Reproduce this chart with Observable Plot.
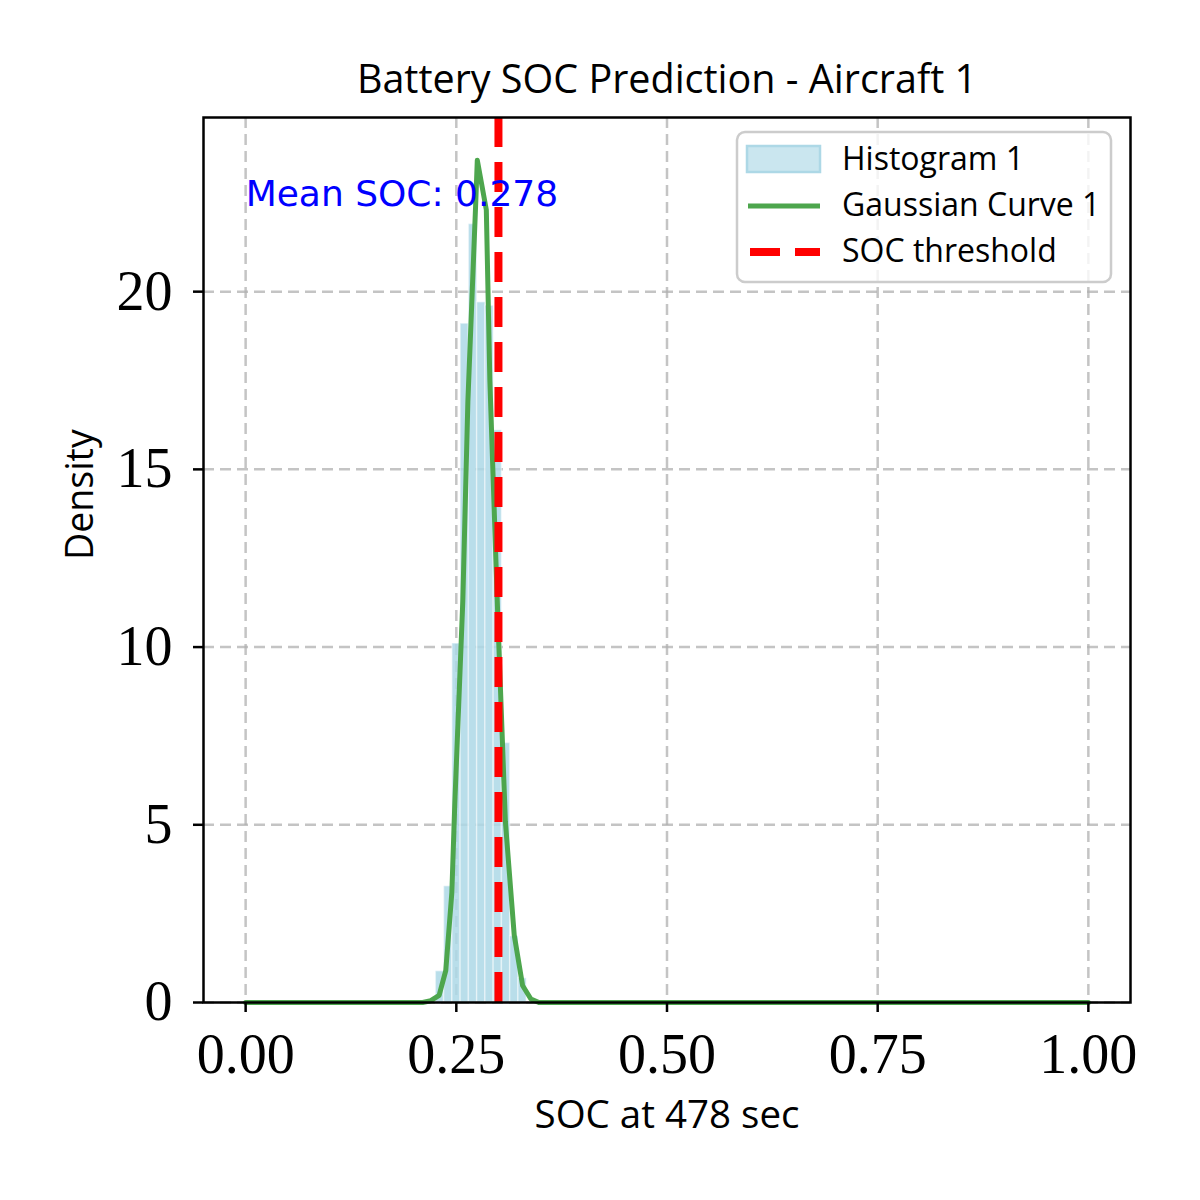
<!DOCTYPE html>
<html>
<head>
<meta charset="utf-8">
<script src="https://cdn.jsdelivr.net/npm/d3@7"></script>
<script src="https://cdn.jsdelivr.net/npm/@observablehq/plot@0.6"></script>
<style>
  html, body { margin: 0; padding: 0; background: #fff; }
  #chart { width: 1200px; height: 1200px; }
</style>
</head>
<body>
<div id="chart"></div>
<script>
// Histogram of predicted SOC (density), bin edges and heights
const binStart   = [0.2257, 0.2355, 0.2453, 0.2551, 0.2649, 0.2747, 0.2845, 0.2943, 0.3041, 0.3139, 0.3237];
const binEnd     = [0.2355, 0.2453, 0.2551, 0.2649, 0.2747, 0.2845, 0.2943, 0.3041, 0.3139, 0.3237, 0.3335];
const binDensity = [0.88, 3.27, 10.1, 19.1, 21.9, 19.7, 19.6, 16.1, 7.3, 1.86, 0.68];

// Fitted Gaussian curve (SOC, density)
const curveSoc     = [0.0, 0.21, 0.2197, 0.2296, 0.2375, 0.2447, 0.2482, 0.2577, 0.2637, 0.2732, 0.2749, 0.2856, 0.2898, 0.2993, 0.3082, 0.3108, 0.3187, 0.3286, 0.3385, 0.348, 1.0];
const curveDensity = [0.0, 0.0, 0.05, 0.2, 0.9, 3.1, 5.6, 11.3, 16.9, 22.6, 23.7, 22.3, 17.5, 10.8, 5.1, 4.3, 1.9, 0.48, 0.1, 0.0, 0.0];

const socThreshold = 0.30;
const meanSoc = 0.278;
const xTicks = [0, 0.25, 0.5, 0.75, 1.0];
const yTicks = [0, 5, 10, 15, 20];
const legendLabels = ["Histogram 1", "Gaussian Curve 1", "SOC threshold"];

const bins = binStart.map((s, i) => ({x1: s, x2: binEnd[i], y: binDensity[i]}));
const curve = curveSoc.map((s, i) => ({x: s, y: curveDensity[i]}));

const serif = "'Liberation Serif', 'DejaVu Serif', serif";
const sans = "'Open Sans', Lato, sans-serif";
const yMax = 24.9;

const chart = Plot.plot({
  width: 1200,
  height: 1200,
  marginLeft: 203,
  marginRight: 70,
  marginTop: 117,
  marginBottom: 198,
  style: {fontFamily: serif, fontSize: "56px", background: "white", overflow: "visible"},
  x: {domain: [-0.05, 1.05]},
  y: {domain: [0, yMax]},
  marks: [
    Plot.gridX(xTicks, {stroke: "#b0b0b0", strokeOpacity: 0.75, strokeWidth: 2.5, strokeDasharray: "11,6"}),
    Plot.gridY(yTicks, {stroke: "#b0b0b0", strokeOpacity: 0.75, strokeWidth: 2.5, strokeDasharray: "11,6"}),
    Plot.rectY(bins, {x1: "x1", x2: "x2", y: "y", fill: "#add8e6", fillOpacity: 0.85, stroke: "white", strokeOpacity: 0.45, strokeWidth: 1.5}),
    Plot.line(curve, {x: "x", y: "y", stroke: "#4da64d", strokeWidth: 5, strokeLinejoin: "round"}),
    Plot.ruleX([socThreshold], {y1: 0, y2: yMax, stroke: "red", strokeWidth: 8, strokeDasharray: "30,15"}),
    Plot.text([`Mean SOC: ${meanSoc.toFixed(3)}`], {x: 0, y: 22.4, text: d => d, textAnchor: "start", lineAnchor: "bottom", fill: "blue", fontFamily: "'DejaVu Sans', sans-serif", fontSize: 36}),
    Plot.frame({stroke: "black", strokeWidth: 2.5}),
    Plot.axisX(xTicks, {tickFormat: d3.format(".2f"), tickSize: 10, tickPadding: 21, strokeWidth: 2.5, label: null, fontSize: 56, fontFamily: serif}),
    Plot.axisY(yTicks, {tickFormat: d3.format("d"), tickSize: 10, tickPadding: 21, strokeWidth: 2.5, label: null, fontSize: 56, fontFamily: serif}),
    Plot.text(["SOC at 478 sec"], {frameAnchor: "bottom", dy: 113, text: d => d, lineAnchor: "middle", fontFamily: sans, fontSize: 38.5, fill: "black"}),
    Plot.text(["Density"], {frameAnchor: "left", dx: -123, rotate: -90, text: d => d, lineAnchor: "middle", fontFamily: sans, fontSize: 37.5, fill: "black"}),
    Plot.text(["Battery SOC Prediction - Aircraft 1"], {frameAnchor: "top", dy: -37, text: d => d, lineAnchor: "middle", fontFamily: sans, fontSize: 39.5, fill: "black"})
  ]
});

// Legend box in the upper right of the axes
const svg = d3.select(chart);
const lg = svg.append("g").attr("transform", "translate(737,132)");
lg.append("rect").attr("width", 374).attr("height", 150).attr("rx", 8)
  .attr("fill", "white").attr("fill-opacity", 0.8).attr("stroke", "#cccccc").attr("stroke-width", 2.5);
lg.append("rect").attr("x", 10).attr("y", 14).attr("width", 73).attr("height", 26)
  .attr("fill", "#add8e6").attr("fill-opacity", 0.65).attr("stroke", "#add8e6").attr("stroke-width", 2.5);
lg.append("line").attr("x1", 11).attr("x2", 83).attr("y1", 74).attr("y2", 74)
  .attr("stroke", "#4da64d").attr("stroke-width", 5);
lg.append("line").attr("x1", 13).attr("x2", 83).attr("y1", 120).attr("y2", 120)
  .attr("stroke", "red").attr("stroke-width", 8).attr("stroke-dasharray", "30,15");
legendLabels.forEach((t, i) => {
  lg.append("text").attr("x", 105).attr("y", 27 + i * 46).attr("dy", "0.35em")
    .attr("text-anchor", "start")
    .attr("font-family", sans).attr("font-size", 32).attr("fill", "black").text(t);
});

document.getElementById("chart").appendChild(chart);
</script>
</body>
</html>
